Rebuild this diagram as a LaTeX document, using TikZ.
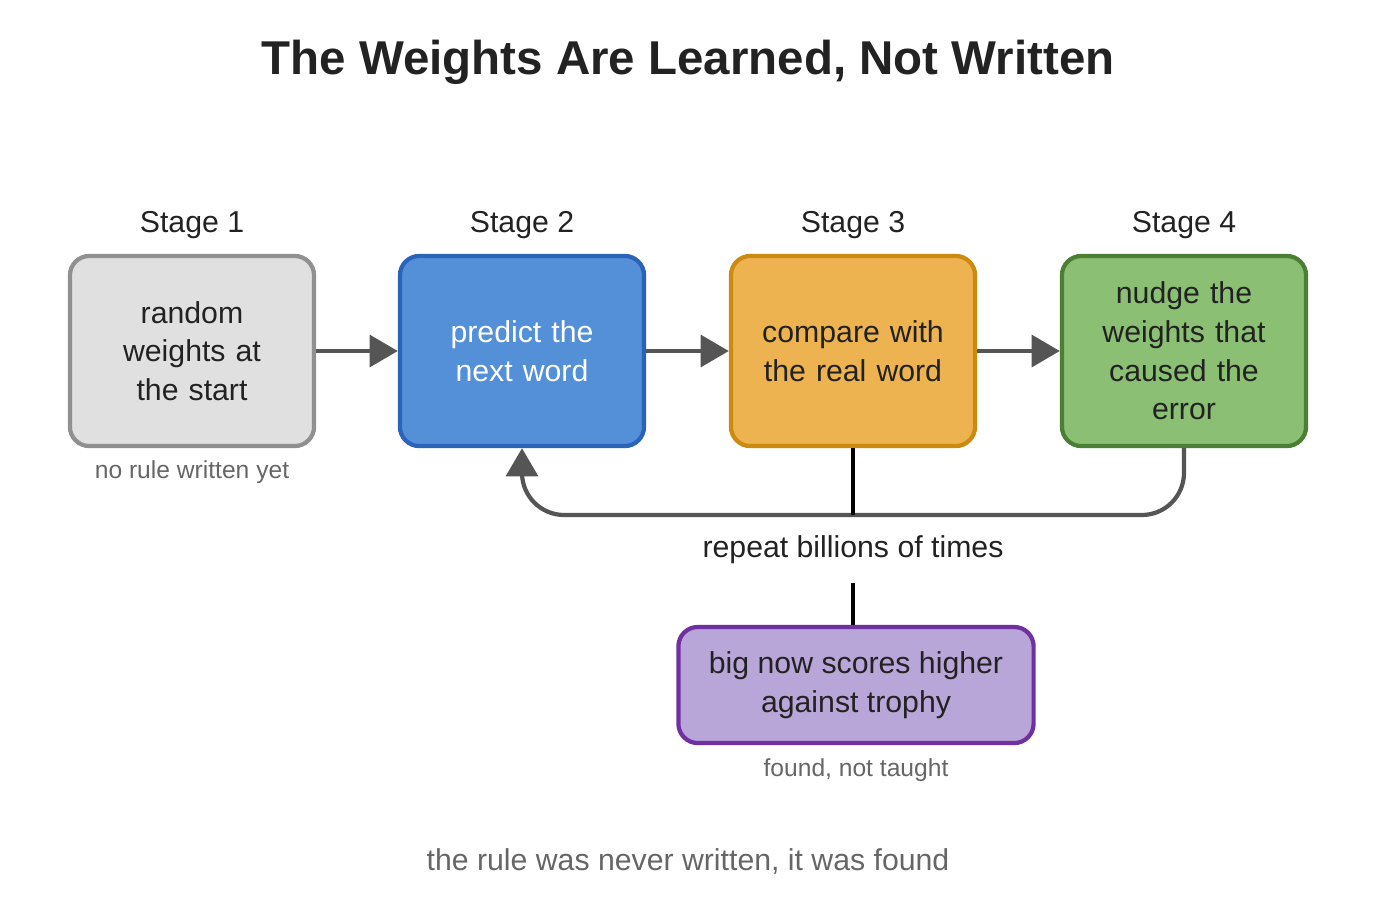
\documentclass[tikz,border=0pt]{standalone}
\usepackage{fontspec}
\setmainfont{Liberation Sans}
\usetikzlibrary{arrows.meta}
\definecolor{txt}{HTML}{222222}
\definecolor{sub}{HTML}{666666}
\definecolor{arr}{HTML}{555555}
\definecolor{thin}{HTML}{AAAAAA}
\definecolor{gF}{HTML}{E0E0E0}\definecolor{gB}{HTML}{909090}
\definecolor{bF}{HTML}{5490D8}\definecolor{bB}{HTML}{2B63B8}
\definecolor{oF}{HTML}{EDB350}\definecolor{oB}{HTML}{CC8A10}
\definecolor{nF}{HTML}{8BBF73}\definecolor{nB}{HTML}{4A7F35}
\definecolor{pF}{HTML}{B8A6D8}\definecolor{pB}{HTML}{7030A0}
\begin{document}
\begin{tikzpicture}[x=0.01cm,y=-0.01cm,
  box/.style={draw,line width=1.2pt,rounded corners=5.5pt,minimum width=2.44cm,minimum height=1.9cm,align=center,text width=2.3cm,font=\fontsize{8.6}{11}\selectfont,inner sep=0pt},
  stage/.style={font=\fontsize{8.6}{10}\selectfont,text=txt},
  note/.style={font=\fontsize{7}{9}\selectfont,text=sub},
  flow/.style={draw=arr,line width=1.2pt,-{Triangle[length=8pt,width=9pt]}}]
\useasboundingbox (0,0) rectangle (1376,899);
\node[font=\bfseries\fontsize{13.5}{16}\selectfont,text=txt] (title) at (688,62) {The Weights Are Learned, Not Written};
\node[stage] (l1) at (192,225) {Stage 1};
\node[stage] (l2) at (522,225) {Stage 2};
\node[stage] (l3) at (853,225) {Stage 3};
\node[stage] (l4) at (1184,225) {Stage 4};
\node[box,fill=gF,draw=gB,text=txt] (s1) at (192,351) {random\\weights at\\the start};
\node[box,fill=bF,draw=bB,text=white] (s2) at (522,351) {predict the\\next word};
\node[box,fill=oF,draw=oB,text=txt] (s3) at (853,351) {compare with\\the real word};
\node[box,fill=nF,draw=nB,text=txt] (s4) at (1184,351) {nudge the\\weights that\\caused the\\error};
\node[note] (n1) at (192,472) {no rule written yet};
\draw[flow] (s1) -- (s2);
\draw[flow] (s2) -- (s3);
\draw[flow] (s3) -- (s4);
\coordinate (j) at (853,515);
\draw[flow,rounded corners=12pt] (s4.south) -- (1184,515) -- (522,515) -- (s2.south);
\draw[thin,line width=1pt] (s3.south) -- (j);
\node[stage] (rep) at (853,550) {repeat billions of times};
\node[draw=pB,fill=pF,line width=1.2pt,rounded corners=5.5pt,minimum width=3.55cm,minimum height=1.16cm,align=center,font=\fontsize{8.6}{11}\selectfont,text=txt,inner sep=0pt] (p) at (856,685) {big now scores higher\\against trophy};
\draw[thin,line width=1pt] (853,583) -- (p.north -| 853,0);
\node[note] (n2) at (856,770) {found, not taught};
\node[font=\fontsize{8.6}{10}\selectfont,text=sub] (bot) at (688,861) {the rule was never written, it was found};
\end{tikzpicture}
\end{document}
